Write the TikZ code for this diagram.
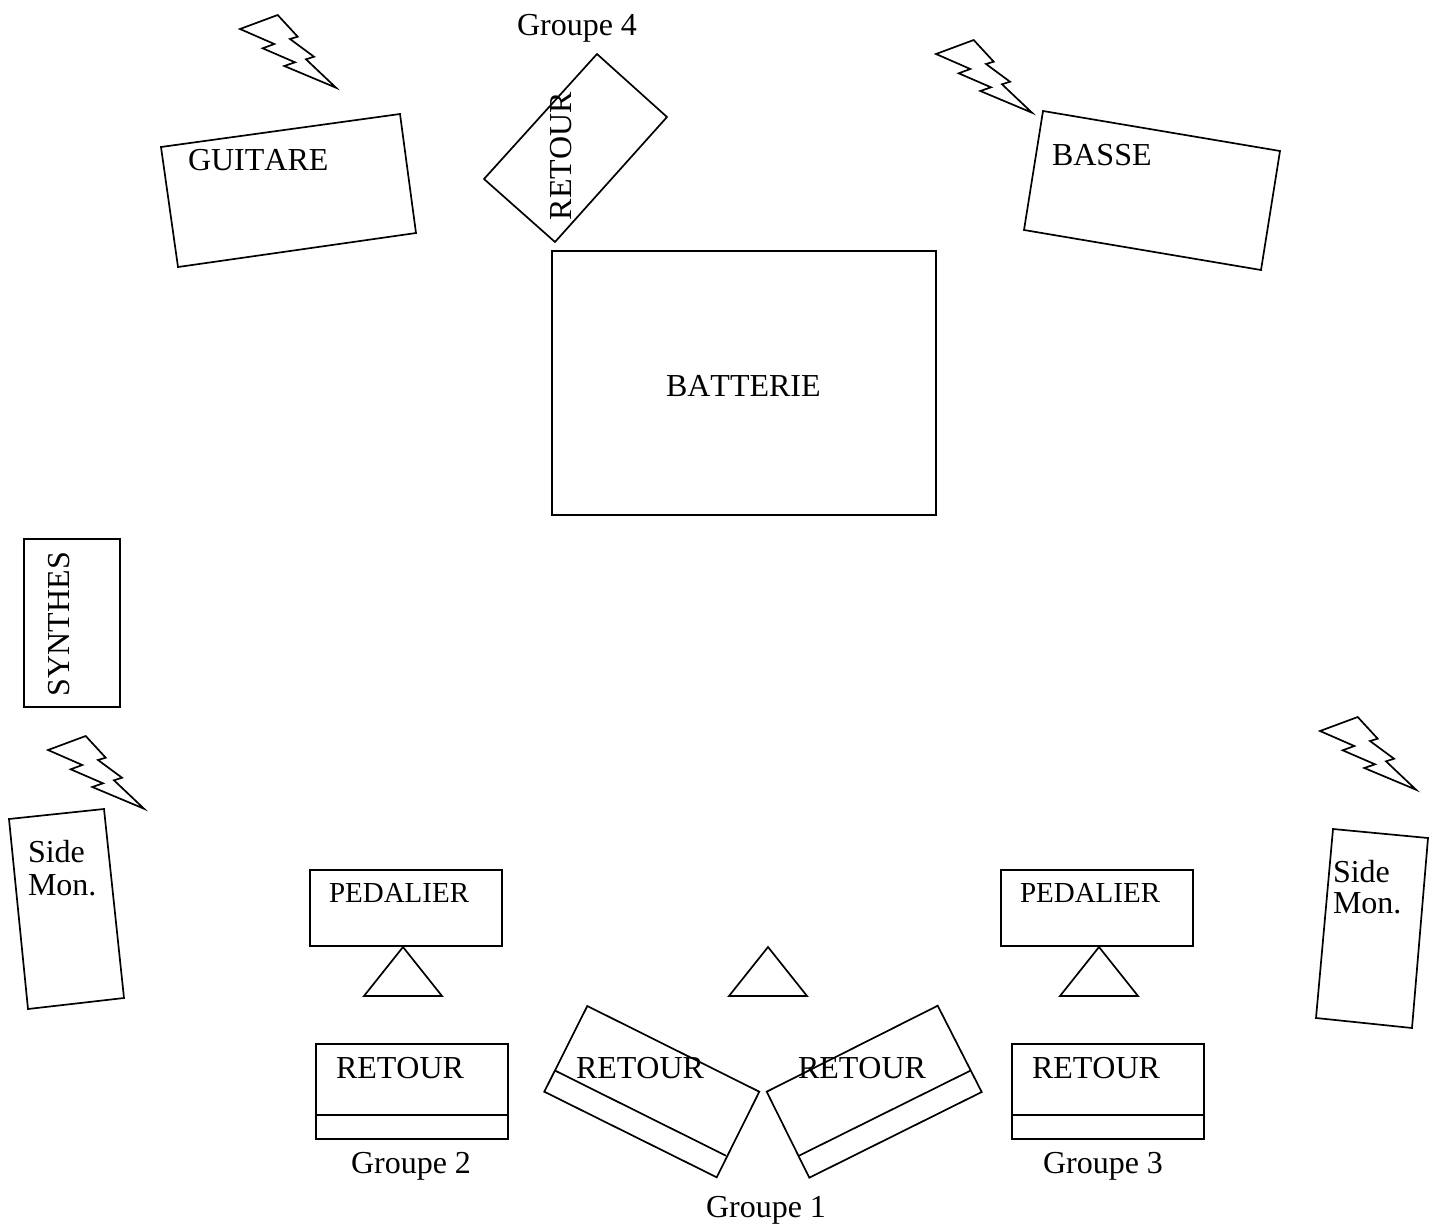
\documentclass[tikz,border=0pt]{standalone}
\usepackage{fontspec}
\setmainfont[Kerning=Off]{Liberation Serif}
\tikzset{
  outline/.style={draw=black,line width=1.7pt,line join=miter},
  lab/.style={anchor=base west,inner sep=0pt,outer sep=0pt,font=\fontsize{32}{36}\selectfont,text=black},
  labsmall/.style={lab,font=\fontsize{29}{33}\selectfont},
  upward/.style={lab,rotate=90},
  pics/boltmark/.style={code={
    \draw[outline] (240,29)--(277.7,15)--(297.7,36.7)--(290,39)--(314,56.7)--(306,59.3)--(336,87.7)--(284.3,66)--(295,62.3)--(262.7,48.3)--(274.3,44)--cycle;
  }}
}
\begin{document}
\begin{tikzpicture}[x=1pt,y=-1pt]
\useasboundingbox (0,0) rectangle (1438,1226);
% lightning bolts
\pic at (0,0) {boltmark};
\pic at (696,25) {boltmark};
\pic at (-192,721) {boltmark};
\pic at (1080,702) {boltmark};
% upper instruments
\draw[outline] (161,147)--(400,114)--(416,233)--(178,267)--cycle;
\draw[outline] (597,54)--(667,117)--(555,242)--(484,179)--cycle;
\draw[outline] (1043,111)--(1280,151)--(1261,270)--(1024,230)--cycle;
\draw[outline] (552,251) rectangle (936,515);
\draw[outline] (24,539) rectangle (120,707);
% side monitors
\draw[outline] (9,819)--(104,809)--(124,998)--(28,1009)--cycle;
\draw[outline] (1333,829)--(1428,838)--(1412,1028)--(1316,1018)--cycle;
% pedals and triangles
\draw[outline] (310,870) rectangle (502,946);
\draw[outline] (1001,870) rectangle (1193,946);
\draw[outline] (403,947)--(364,996)--(442,996)--cycle;
\draw[outline] (768,947)--(729,996)--(807,996)--cycle;
\draw[outline] (1099,947)--(1060,996)--(1138,996)--cycle;
% front wedges
\draw[outline] (316,1044) rectangle (508,1139);
\draw[outline] (316,1115)--(508,1115);
\draw[outline] (1012,1044) rectangle (1204,1139);
\draw[outline] (1012,1115)--(1204,1115);
\draw[outline] (587.3,1006)--(759.3,1091.7)--(716.7,1177.3)--(544.3,1091.7)--cycle;
\draw[outline] (555.3,1070.7)--(726,1155.7);
\draw[outline] (937.7,1005.7)--(981.7,1092)--(809.3,1177.7)--(766.7,1091.7)--cycle;
\draw[outline] (970.3,1070.7)--(799,1155.7);
% labels
\node[lab] (g4) at (517,35) {Groupe 4};
\node[lab] (guitare) at (188,170) {GUITARE};
\node[lab] (basse) at (1052,165) {BASSE};
\node[lab] (batterie) at (666,396) {BATTERIE};
\node[upward] (retourfour) at (571.5,220) {RETOUR};
\node[upward] (synthes) at (69,696) {SYNTHES};
\node[lab] (sideL) at (28,862) {Side};
\node[lab] (monL) at (28,895) {Mon.};
\node[lab] (sideR) at (1333,882) {Side};
\node[lab] (monR) at (1333,913) {Mon.};
\node[labsmall] (pedL) at (329,902) {PEDALIER};
\node[labsmall] (pedR) at (1020,902) {PEDALIER};
\node[lab] (retA) at (336,1078) {RETOUR};
\node[lab] (retB) at (576,1078) {RETOUR};
\node[lab] (retC) at (798,1078) {RETOUR};
\node[lab] (retD) at (1032,1078) {RETOUR};
\node[lab] (g2) at (351,1173) {Groupe 2};
\node[lab] (g3) at (1043,1173) {Groupe 3};
\node[lab] (g1) at (706,1217) {Groupe 1};
\end{tikzpicture}
\end{document}
